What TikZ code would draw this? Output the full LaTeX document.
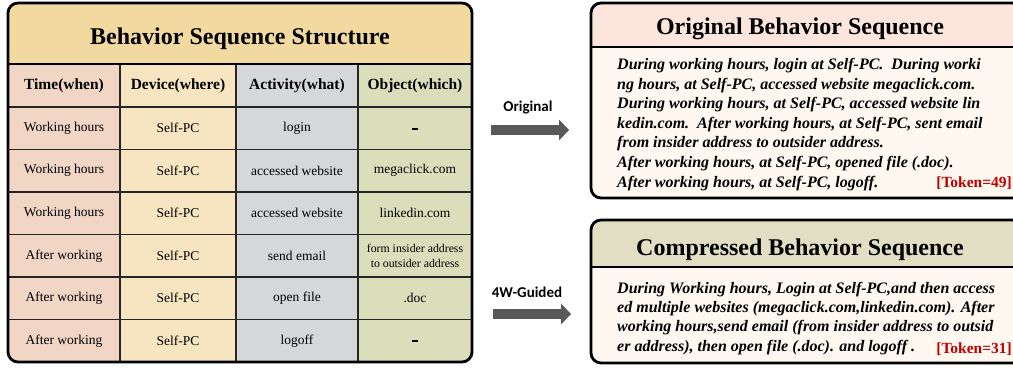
\documentclass[tikz,border=0pt]{standalone}
\usepackage{fontspec}
\setmainfont{Liberation Serif}
\newfontfamily\lblfont{Carlito}
\usepackage{xcolor}
\usepackage{tikz}
\usetikzlibrary{arrows.meta,positioning}

\definecolor{bandgold}{RGB}{241,217,160}
\definecolor{timecol}{RGB}{241,213,197}
\definecolor{devcol}{RGB}{247,228,193}
\definecolor{actcol}{RGB}{214,215,219}
\definecolor{objcol}{RGB}{218,222,187}
\definecolor{origband}{RGB}{251,229,220}
\definecolor{compband}{RGB}{225,222,195}
\definecolor{bodycream}{RGB}{254,248,240}
\definecolor{tokenred}{RGB}{192,0,0}
\definecolor{arrowgray}{RGB}{89,89,89}
\newcommand{\nodash}{\rule[-3pt]{6pt}{2.2pt}}

\begin{document}
\begin{tikzpicture}[x=1pt,y=-1pt]
\tikzstyle{cell}=[rectangle,draw=black!85,line width=1.2pt,inner sep=0pt,minimum height=42.5pt,align=center,font=\fontsize{13.5}{15}\selectfont];
\tikzstyle{head}=[cell,minimum height=43pt,font=\fontsize{15.5}{18}\selectfont\bfseries];
\tikzstyle{frame}=[line width=2.8pt,rounded corners=10pt];
\tikzstyle{title}=[anchor=base,inner sep=0pt,font=\fontsize{24}{28}\selectfont\bfseries];
\tikzstyle{seqtext}=[anchor=north west,inner sep=0pt,align=left,font=\fontsize{16}{19.6}\selectfont\bfseries\itshape];
\tikzstyle{token}=[anchor=east,inner sep=0pt,text=tokenred,font=\fontsize{15.5}{18}\selectfont\bfseries];
\tikzstyle{myarrows}=[draw=arrowgray,line width=10pt,-{Triangle[width=21pt,length=10pt,line width=0pt]}];
\tikzstyle{arrowlbl}=[inner sep=0pt,font=\lblfont\fontsize{15}{18}\selectfont\bfseries];
\useasboundingbox (0,0) rectangle (1013,368);

\begin{scope}
\clip[rounded corners=10pt] (8,3) rectangle (472,362);
\fill[bandgold] (8,3) rectangle (472,64);
\node[head,fill=timecol,minimum width=112pt](h1) at (64,85.5){Time(when)};
\node[head,fill=devcol,minimum width=116pt](h2) at (178,85.5){Device(where)};
\node[head,fill=actcol,minimum width=122pt](h3) at (297,85.5){Activity(what)};
\node[head,fill=objcol,minimum width=114pt](h4) at (415,85.5){Object(which)};
\node[cell,fill=timecol,minimum width=112pt](t1) at (64,128.25){Working hours};
\node[cell,fill=devcol,minimum width=116pt](d1) at (178,128.25){Self-PC};
\node[cell,fill=actcol,minimum width=122pt](a1) at (297,128.25){login};
\node[cell,fill=objcol,minimum width=114pt](o1) at (415,128.25){\nodash};
\node[cell,fill=timecol,minimum width=112pt](t2) at (64,170.75){Working hours};
\node[cell,fill=devcol,minimum width=116pt](d2) at (178,170.75){Self-PC};
\node[cell,fill=actcol,minimum width=122pt](a2) at (297,170.75){accessed website};
\node[cell,fill=objcol,minimum width=114pt](o2) at (415,170.75){megaclick.com};
\node[cell,fill=timecol,minimum width=112pt](t3) at (64,213.25){Working hours};
\node[cell,fill=devcol,minimum width=116pt](d3) at (178,213.25){Self-PC};
\node[cell,fill=actcol,minimum width=122pt](a3) at (297,213.25){accessed website};
\node[cell,fill=objcol,minimum width=114pt](o3) at (415,213.25){linkedin.com};
\node[cell,fill=timecol,minimum width=112pt](t4) at (64,255.75){After working};
\node[cell,fill=devcol,minimum width=116pt](d4) at (178,255.75){Self-PC};
\node[cell,fill=actcol,minimum width=122pt](a4) at (297,255.75){send email};
\node[cell,fill=objcol,minimum width=114pt,font=\fontsize{11.8}{14.5}\selectfont](o4) at (415,255.75){form insider address\\to outsider address};
\node[cell,fill=timecol,minimum width=112pt](t5) at (64,298.25){After working};
\node[cell,fill=devcol,minimum width=116pt](d5) at (178,298.25){Self-PC};
\node[cell,fill=actcol,minimum width=122pt](a5) at (297,298.25){open file};
\node[cell,fill=objcol,minimum width=114pt](o5) at (415,298.25){.doc};
\node[cell,fill=timecol,minimum width=112pt](t6) at (64,340.75){After working};
\node[cell,fill=devcol,minimum width=116pt](d6) at (178,340.75){Self-PC};
\node[cell,fill=actcol,minimum width=122pt](a6) at (297,340.75){logoff};
\node[cell,fill=objcol,minimum width=114pt](o6) at (415,340.75){\nodash};
\draw[line width=2pt] (8,64) -- (472,64);
\end{scope}
\draw[frame] (8,3) rectangle (472,362);
\node[title](structtitle) at (240,44){Behavior Sequence Structure};

\begin{scope}
\clip[rounded corners=10pt] (591,3) rectangle (1022,198);
\fill[bodycream] (591,3) rectangle (1022,198);
\fill[origband] (591,3) rectangle (1022,47);
\draw[line width=1.8pt] (591,47) -- (1022,47);
\end{scope}
\draw[frame] (591,3) rectangle (1022,198);
\node[title](origtitle) at (800,34){Original Behavior Sequence};
\node[seqtext](origtext) at (617,58){During working hours, login at Self-PC.\ \ During worki\\
ng hours, at Self-PC, accessed website megaclick.com.\\
During working hours, at Self-PC, accessed website lin\\
kedin.com.\ \ After working hours, at Self-PC, sent email\\
from insider address to outsider address.\\
After working hours, at Self-PC, opened file (.doc).\\
After working hours, at Self-PC, logoff.};
\node[token](origtoken) at (1012,183){[Token=49]};

\begin{scope}
\clip[rounded corners=10pt] (591,220) rectangle (1022,363);
\fill[bodycream] (591,220) rectangle (1022,363);
\fill[compband] (591,220) rectangle (1022,267);
\draw[line width=1.8pt] (591,267) -- (1022,267);
\end{scope}
\draw[frame] (591,220) rectangle (1022,363);
\node[title](comptitle) at (800,255){Compressed Behavior Sequence};
\node[seqtext,font=\fontsize{16}{19.2}\selectfont\bfseries\itshape](comptext) at (617,282){During Working hours, Login at Self-PC,and then access\\
ed multiple websites (megaclick.com,linkedin.com). After\\
working hours,send email (from insider address to outsid\\
er address), then open file (.doc). and logoff .};
\node[token](comptoken) at (1012,349){[Token=31]};

\node[arrowlbl](origlbl) at (528,108){Original};
\coordinate (os) at (491,130);
\coordinate (oe) at (569,130);
\draw[myarrows] (os) -- (oe);
\node[arrowlbl](guidelbl) at (527,292){4W-Guided};
\coordinate (gs) at (493,314);
\coordinate (ge) at (571,314);
\draw[myarrows] (gs) -- (ge);
\end{tikzpicture}
\end{document}
